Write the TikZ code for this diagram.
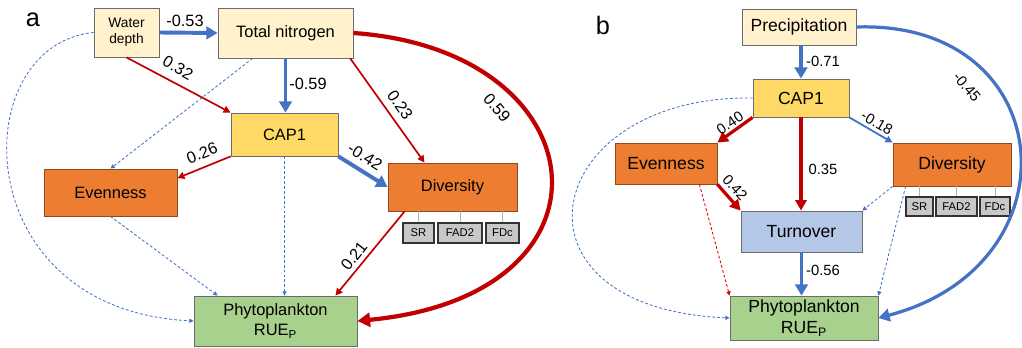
\documentclass[tikz,border=0pt]{standalone}
\usepackage{fontspec}
\setmainfont{Liberation Sans}
\usetikzlibrary{arrows.meta}
\definecolor{cream}{HTML}{FFF2CC}
\definecolor{capy}{HTML}{FFD966}
\definecolor{orng}{HTML}{ED7D31}
\definecolor{grn}{HTML}{A9D18E}
\definecolor{lblue}{HTML}{B4C7E7}
\definecolor{lgrey}{HTML}{C8C8C8}
\definecolor{dred}{HTML}{C00000}
\definecolor{mblue}{HTML}{4472C4}
\def\px{0.025cm}
\begin{document}
\begin{tikzpicture}[x=0.025cm,y=-0.025cm,
  box/.style={draw=gray!85!black,line width=0.6pt,inner sep=0pt,align=center},
  wh/.style 2 args={minimum width=#1*\px,minimum height=#2*\px},
  gbox/.style={draw=black!80,line width=0.9pt,fill=lgrey,inner sep=0pt,font=\fontsize{8}{9}\selectfont},
  tie/.style={draw=gray!60,line width=0.5pt},
  fa/.style={font=\fontsize{11.7}{14}\selectfont},
  fb/.style={font=\fontsize{12.5}{15.5}\selectfont},
  lab/.style={inner sep=0pt,font=\fontsize{11.6}{13}\selectfont},
  labb/.style={inner sep=0pt,font=\fontsize{10.5}{12}\selectfont},
  bluethick/.style={draw=mblue,line width=2.8pt,-{Triangle[length=8pt,width=9pt]}},
  bluethin/.style={draw=mblue,line width=1.3pt,-{Triangle[length=5pt,width=5pt]}},
  redthick/.style={draw=dred,line width=2.3pt,-{Triangle[length=7.5pt,width=8pt]}},
  redthin/.style={draw=dred,line width=1.2pt,-{Triangle[length=5pt,width=5pt]}},
  bluedash/.style={draw=mblue,line width=0.6pt,dash pattern=on 2pt off 1.5pt,-{Triangle[length=3pt,width=3pt]}},
  reddash/.style={draw=red!85!black,line width=0.6pt,dash pattern=on 2pt off 1.5pt,-{Triangle[length=3pt,width=3pt]}}]
\useasboundingbox (0,0) rectangle (1022,348);

% panel a
\node[inner sep=0pt,font=\fontsize{18}{18}\selectfont] (pa) at (33,20) {a};
\node[box,fill=cream,wh={65}{49},font=\fontsize{9.8}{11.4}\selectfont] (wd) at (126.5,32.5) {Water\\depth};
\node[box,fill=cream,wh={135}{50},fa] (tn) at (285.5,33) {Total nitrogen};
\node[box,fill=capy,wh={107}{43},fa] (cap) at (284.5,134.5) {CAP1};
\node[box,fill=orng,draw=orng!60!black,wh={133}{47},fa] (even) at (110.5,192.5) {Evenness};
\node[box,fill=orng,draw=orng!60!black,wh={129}{48},fa] (div) at (452.5,187) {Diversity};
\node[box,fill=grn,wh={163}{50},fa] (phy) at (275.5,321) {Phytoplankton\\RUE\textsubscript{P}};
\foreach \n/\t/\x/\w in {sr/SR/418.5/31,fad/FAD2/460/44,fdc/FDc/502.5/33}{
  \node[gbox,wh={\w}{20}] (\n) at (\x,233) {\t};
  \draw[tie] (\n.north) -- (\n.north|-div.south);
}

\draw[bluedash] (wd.west) .. controls (-35,45) and (-35,310) .. (phy.west);
\draw[bluedash] ([xshift=0.875cm]tn.south west) -- (even.north);
\draw[bluedash] (cap.south) -- (cap.south|-phy.north);
\draw[bluedash] (even.south) -- ([xshift=0.6cm]phy.north west);
\draw[bluethick] (wd.east) -- (tn.west);
\draw[redthin] (wd.south) -- (cap.north west);
\draw[bluethick] (tn.south) -- (tn.south|-cap.north);
\draw[redthin] ([xshift=-0.08cm]tn.south east) -- ([xshift=-0.7cm]div.north);
\draw[redthin] (cap.south west) -- ([yshift=0.36cm]even.east);
\draw[bluethick] (cap.south east) -- (div.west);
\draw[redthin] ([xshift=0.425cm]div.south west) -- ([xshift=-0.55cm]phy.north east);
\draw[dred,line width=3pt,-{Triangle[length=9pt,width=10pt]}] (tn.east) .. controls (600,50) and (630,295) .. (phy.east);

\node[lab] (l1) at (185,21) {-0.53};
\node[lab,rotate=-30] (l2) at (178,68) {0.32};
\node[lab] (l3) at (308,84) {-0.59};
\node[lab,rotate=-55] (l4) at (400,105) {0.23};
\node[lab,rotate=-50] (l5) at (497,108) {0.59};
\node[lab,rotate=22] (l6) at (202,153) {0.26};
\node[lab,rotate=-32] (l7) at (365,157) {-0.42};
\node[lab,rotate=52] (l8) at (354,256) {0.21};

% panel b
\node[inner sep=0pt,font=\fontsize{18}{18}\selectfont] (pb) at (603,25) {b};
\node[box,fill=cream,wh={114}{36},fb] (prec) at (799,27) {Precipitation};
\node[box,fill=capy,wh={96}{38},fb] (capb) at (801,98) {CAP1};
\node[box,fill=orng,draw=orng!60!black,wh={102}{41},fb] (evenb) at (666,163.5) {Evenness};
\node[box,fill=orng,draw=orng!60!black,wh={118}{43},fb] (divb) at (952,164.5) {Diversity};
\node[box,fill=lblue,wh={121}{41},fb] (turn) at (801.5,231.5) {Turnover};
\node[box,fill=grn,wh={148}{44},fb] (phyb) at (804,318) {Phytoplankton\\RUE\textsubscript{P}};
\foreach \n/\t/\x/\w in {srb/SR/919.5/27,fadb/FAD2/956.5/41,fdcb/FDc/995/30}{
  \node[gbox,wh={\w}{19}] (\n) at (\x,206.5) {\t};
  \draw[tie] (\n.north) -- (\n.north|-divb.south);
}

\draw[bluedash] (capb.west) .. controls (540,95) and (496,308) .. (phyb.west);
\draw[reddash] ([xshift=-0.45cm]evenb.south east) -- (phyb.north west);
\draw[bluedash] (divb.south west) -- (turn.north east);
\draw[bluedash] ([xshift=0.325cm]divb.south west) -- (phyb.north east);
\draw[bluethick] (capb.north|-prec.south) -- (capb.north);
\draw[redthick] (capb.south west) -- (evenb.north east);
\draw[redthick] (capb.south) -- (capb.south|-turn.north);
\draw[bluethin] (capb.south east) -- (divb.north west);
\draw[redthick] (evenb.south east) -- (turn.north west);
\draw[bluethick] (turn.south) -- (turn.south|-phyb.north);
\draw[mblue,line width=2.3pt,-{Triangle[length=8pt,width=9pt]}] (prec.east) .. controls (1060,20) and (1080,265) .. (phyb.east);

\node[labb] (m1) at (823,61) {-0.71};
\node[labb,rotate=-50] (m2) at (967,87) {-0.45};
\node[labb,rotate=34] (m3) at (730,123) {0.40};
\node[labb,rotate=-30] (m4) at (877,123) {-0.18};
\node[labb] (m5) at (823,169) {0.35};
\node[labb,rotate=-48] (m6) at (735,188) {0.42};
\node[labb] (m7) at (823,270) {-0.56};
\end{tikzpicture}
\end{document}
